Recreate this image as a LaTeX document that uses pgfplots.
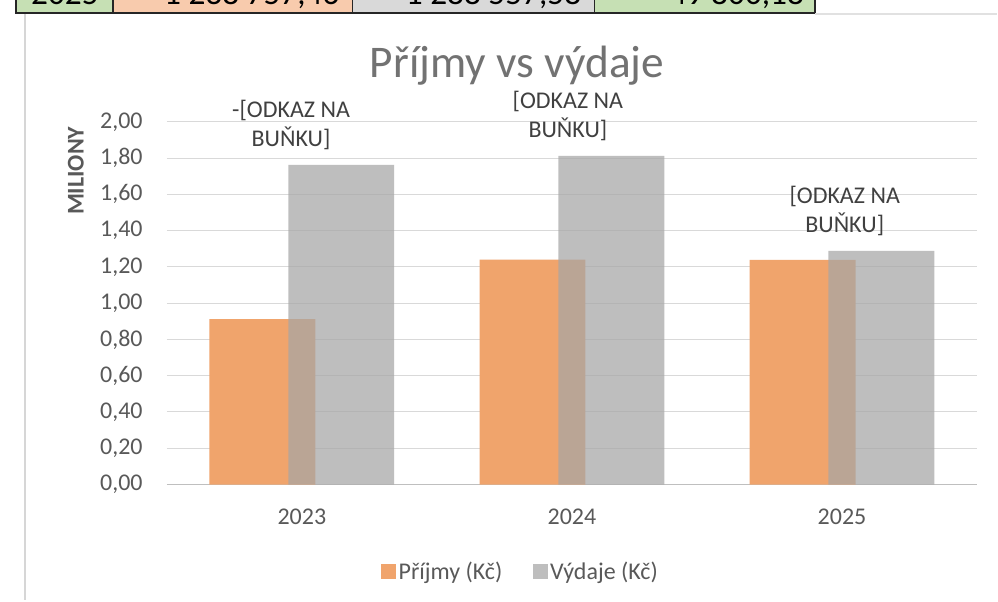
\documentclass[border=0pt]{standalone}
\usepackage{fontspec}
\setmainfont{Carlito}
\usepackage{pgfplots}
\pgfplotsset{compat=1.18}
\definecolor{txt}{RGB}{89,89,89}
\definecolor{lbl}{RGB}{64,64,64}
\definecolor{gridc}{RGB}{217,217,217}
\definecolor{axisc}{RGB}{191,191,191}
\definecolor{orangebar}{RGB}{240,164,108}
\definecolor{graybar}{RGB}{166,166,166}
\definecolor{borderc}{RGB}{214,214,214}
\definecolor{cellgreen}{RGB}{198,224,180}
\definecolor{cellorange}{RGB}{248,203,173}
\definecolor{cellgray}{RGB}{217,217,217}
\newcommand\fs{\fontsize{18}{21.75}\selectfont}
\newcommand\cs{\fontsize{25}{30}\selectfont}
\begin{document}
\begin{tikzpicture}
\begin{scope}[x=0.75pt,y=0.75pt]
\path[fill=white] (0,0) rectangle (998,601);
% fragment of the table above the chart
\begin{scope}
\clip (0,586) rectangle (998,601);
\fill[cellgreen] (16,588) rectangle (113,640);
\fill[cellorange] (113,588) rectangle (353,640);
\fill[cellgray] (353,588) rectangle (595,640);
\fill[cellgreen] (595,588) rectangle (816,640);
\draw[black!85, line width=1.2pt] (16,640) -- (16,588) -- (816,588) -- (816,640);
\draw[black!85, line width=1.2pt] (113,640) -- (113,588) (353,640) -- (353,588) (595,640) -- (595,588);
\node[anchor=base, inner sep=0pt, font=\cs] at (65,596) {2025};
\node[anchor=base east, inner sep=0pt, font=\cs] at (340,596) {1 238 757,46};
\node[anchor=base east, inner sep=0pt, font=\cs] at (582,596) {1 288 557,58};
\node[anchor=base east, inner sep=0pt, font=\cs] at (805,596) {49 800,18};
\end{scope}
\draw[gridc!80, line width=1.5pt] (816,586.5) -- (998,586.5);
\draw[borderc, line width=1.5pt] (25,587) -- (25,0);
% title and y label
\node[anchor=base, inner sep=0pt, text=txt!85, font=\fontsize{34}{40}\selectfont] at (517.5,523) {Příjmy vs výdaje};
\node[rotate=90, inner sep=0pt, text=txt, font=\fs\bfseries] at (76,430) {MILIONY};
\end{scope}
\begin{axis}[
  at={(125.25pt,87pt)}, anchor=south west,
  scale only axis, width=608.25pt, height=272.25pt,
  xmin=-0.5, xmax=2.5, ymin=0, ymax=2,
  clip=false,
  axis line style={draw=none},
  ymajorgrids, grid style={gridc, line width=0.75pt},
  major tick length=0pt,
  xtick={0,1,2}, xticklabels={2023,2024,2025},
  ytick={0,0.2,0.4,0.6,0.8,1,1.2,1.4,1.6,1.8,2},
  yticklabel style={/pgf/number format/fixed, /pgf/number format/fixed zerofill,
    /pgf/number format/precision=2, /pgf/number format/use comma,
    /pgf/number format/1000 sep={}},
  /pgf/number format/assume math mode=true,
  tick label style={font=\fs, text=txt, inner sep=0pt},
  yticklabel style={xshift=-18pt},
  xticklabel style={yshift=-18pt},
  legend style={at={(0.437,-0.24)}, anchor=center, draw=none, fill=none,
    legend columns=2, font=\fs, text=txt,
    /tikz/every even column/.append style={column sep=21pt}},
  legend cell align=left,
]
\draw[axisc, line width=1.3pt] (rel axis cs:0,0) -- (rel axis cs:1,0);
\addplot[ybar, bar width=79.5pt, bar shift=-29.6pt, fill=orangebar, draw=none,
  legend image code/.code={\fill[orangebar] (0pt,-5.5pt) rectangle (11pt,5.5pt);}]
  coordinates {(0,0.912) (1,1.240) (2,1.2388)};
\addlegendentry{Příjmy (Kč)}
\addplot[ybar, bar width=79.5pt, bar shift=29.6pt, fill=graybar, fill opacity=0.72, draw=none,
  legend image code/.code={\fill[graybar, fill opacity=0.72] (0pt,-5.5pt) rectangle (11pt,5.5pt);}]
  coordinates {(0,1.763) (1,1.813) (2,1.2886)};
\addlegendentry{Výdaje (Kč)}
\node[align=center, anchor=south, inner sep=0pt, yshift=11pt, text=lbl, font=\fs] at (axis cs:-0.04,1.763) {-[ODKAZ NA\\BUŇKU]};
\node[align=center, anchor=south, inner sep=0pt, yshift=11pt, text=lbl, font=\fs] at (axis cs:0.985,1.813) {[ODKAZ NA\\BUŇKU]};
\node[align=center, anchor=south, inner sep=0pt, yshift=11pt, text=lbl, font=\fs] at (axis cs:2.01,1.2886) {[ODKAZ NA\\BUŇKU]};
\end{axis}
\end{tikzpicture}
\end{document}
